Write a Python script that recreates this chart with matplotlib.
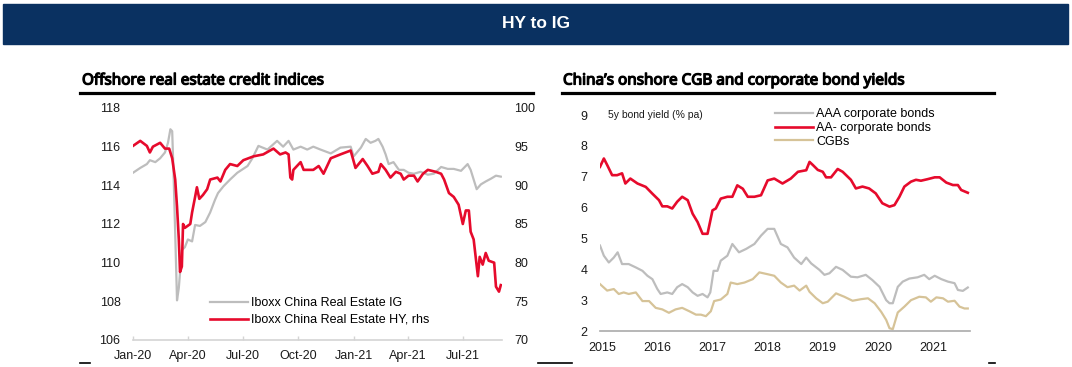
import matplotlib.pyplot as plt
import matplotlib.patheffects as pe
from matplotlib.lines import Line2D
from matplotlib.patches import Rectangle
import pandas as pd

plt.rcParams['font.family'] = ['Liberation Sans', 'DejaVu Sans']

# ---- left panel: Iboxx China real estate indices (days since 1 Jan 2020)
ig_days = [0, 12, 23, 28, 37, 45, 53, 58, 62, 65, 67, 70, 73, 76, 81, 86, 91, 98, 103, 111,
           120, 128, 136, 141, 150, 161, 173, 190, 198, 208, 223, 239, 249, 258, 266, 278, 289, 299, 311, 328,
           344, 361, 366, 378, 386, 394, 402, 407, 414, 419, 424, 432, 441, 449, 457, 466, 477, 489, 499, 511,
           522, 532, 544, 555, 560, 565, 570, 577, 585, 594, 602, 610]
ig_vals = [114.65, 114.9, 115.1, 115.3, 115.2, 115.4, 115.7, 116.2, 116.9, 116.8,
           114.9, 111.5, 108.05, 108.7, 110.65, 110.8, 111.2, 111.1, 111.95, 111.9,
           112.1, 112.6, 113.25, 113.6, 113.95, 114.3, 114.65, 115.0, 115.4, 116.04,
           115.85, 116.3, 116.0, 116.3, 115.85, 116.0, 115.85, 116.0, 115.85, 115.65,
           115.95, 116.0, 115.5, 115.95, 116.4, 116.2, 116.3, 116.4, 116.0, 115.6,
           115.1, 115.2, 114.8, 114.8, 114.65, 114.6, 114.7, 114.55, 114.6, 114.95,
           114.85, 114.85, 114.75, 115.1, 114.8, 114.3, 113.8, 114.05, 114.2, 114.35,
           114.5, 114.45]

hy_days = [0, 12, 23, 28, 33, 45, 53, 60, 65, 70, 73, 76, 78, 81, 83, 86, 95, 98, 103, 106,
           110, 116, 123, 128, 140, 145, 153, 161, 173, 183, 200, 216, 233, 244, 253, 258, 261, 264, 266, 278,
           283, 299, 308, 316, 328, 344, 361, 369, 381, 389, 397, 407, 411, 419, 427, 436, 444, 449, 457, 466,
           472, 481, 489, 502, 511, 516, 524, 532, 540, 547, 552, 557, 560, 565, 572, 575, 580, 585, 590, 599,
           602, 607, 610]
hy_vals = [95.1, 95.75, 95.1, 94.25, 95.0, 95.5, 94.75, 94.75, 93.5, 90.75,
           87.25, 83.0, 78.8, 79.5, 85.0, 84.5, 85.0, 86.5, 88.5, 89.75,
           88.25, 88.75, 89.5, 90.75, 91.0, 90.5, 92.0, 92.75, 92.5, 93.25,
           93.75, 94.0, 94.75, 94.0, 94.25, 94.0, 91.0, 90.75, 92.0, 93.0,
           92.0, 92.0, 92.5, 91.5, 93.5, 94.0, 94.5, 92.25, 93.4, 92.5,
           91.5, 91.75, 92.75, 92.0, 91.0, 91.75, 91.5, 90.75, 91.25, 91.25,
           90.5, 91.5, 92.0, 91.75, 91.5, 90.75, 89.0, 88.5, 87.5, 85.0,
           86.75, 86.75, 84.0, 83.0, 78.25, 80.75, 79.75, 81.25, 80.25, 80.0,
           76.9, 76.25, 77.1]

left_ticks = ['2020-01-01', '2020-04-01', '2020-07-01', '2020-10-01',
              '2021-01-01', '2021-04-01', '2021-07-01']
left_tick_labels = ['Jan-20', 'Apr-20', 'Jul-20', 'Oct-20', 'Jan-21', 'Apr-21', 'Jul-21']

# ---- right panel: 5y yields (decimal years)
aa_years = [2014.96, 2015.03, 2015.09, 2015.18, 2015.27, 2015.36, 2015.42, 2015.51, 2015.64, 2015.79,
            2015.91, 2016.03, 2016.09, 2016.18, 2016.27, 2016.36, 2016.45, 2016.55, 2016.64, 2016.73,
            2016.82, 2016.91, 2017.0, 2017.06, 2017.15, 2017.27, 2017.36, 2017.45, 2017.55, 2017.64,
            2017.76, 2017.88, 2018.0, 2018.12, 2018.27, 2018.42, 2018.55, 2018.70, 2018.76, 2018.82,
            2018.91, 2019.0, 2019.06, 2019.15, 2019.27, 2019.36, 2019.51, 2019.60, 2019.72, 2019.84,
            2019.96, 2020.08, 2020.21, 2020.30, 2020.39, 2020.48, 2020.60, 2020.69, 2020.78, 2020.90,
            2021.03, 2021.12, 2021.24, 2021.36, 2021.45, 2021.51, 2021.63]
aa_vals = [7.32, 7.59, 7.38, 7.05, 7.05, 7.11, 6.78, 6.94, 6.78, 6.67,
           6.45, 6.24, 6.04, 6.04, 5.97, 6.19, 6.35, 6.24, 5.80, 5.53,
           5.15, 5.15, 5.91, 5.97, 6.29, 6.35, 6.35, 6.72, 6.61, 6.35,
           6.35, 6.40, 6.88, 6.94, 6.78, 6.94, 7.16, 7.21, 7.48, 7.38,
           7.22, 7.16, 6.98, 6.98, 7.25, 7.16, 6.90, 6.62, 6.68, 6.62,
           6.46, 6.14, 6.03, 6.08, 6.35, 6.68, 6.84, 6.90, 6.87, 6.92,
           6.98, 6.98, 6.81, 6.73, 6.73, 6.57, 6.48]

aaa_years = [2014.96, 2015.03, 2015.12, 2015.21, 2015.28, 2015.36, 2015.48, 2015.61, 2015.73, 2015.82,
             2015.91, 2016.0, 2016.06, 2016.18, 2016.27, 2016.36, 2016.45, 2016.55, 2016.64, 2016.73,
             2016.82, 2016.91, 2016.96, 2017.02, 2017.09, 2017.15, 2017.27, 2017.36, 2017.48, 2017.61,
             2017.76, 2017.88, 2018.0, 2018.12, 2018.24, 2018.36, 2018.48, 2018.61, 2018.70, 2018.79,
             2018.94, 2019.03, 2019.12, 2019.24, 2019.36, 2019.51, 2019.63, 2019.78, 2019.90, 2020.03,
             2020.15, 2020.21, 2020.27, 2020.36, 2020.45, 2020.57, 2020.72, 2020.84, 2020.93, 2021.03,
             2021.15, 2021.27, 2021.39, 2021.45, 2021.54, 2021.63]
aaa_vals = [4.77, 4.44, 4.22, 4.38, 4.55, 4.17, 4.17, 4.06, 3.95, 3.79,
            3.68, 3.36, 3.20, 3.25, 3.20, 3.42, 3.52, 3.42, 3.25, 3.14,
            3.20, 3.09, 3.25, 3.95, 3.95, 4.28, 4.44, 4.82, 4.55, 4.66,
            4.82, 5.09, 5.31, 5.31, 4.82, 4.71, 4.38, 4.17, 4.38, 4.19,
            3.98, 3.82, 3.87, 4.08, 3.98, 3.76, 3.74, 3.82, 3.65, 3.43,
            3.0, 2.90, 2.90, 3.43, 3.60, 3.70, 3.74, 3.82, 3.68, 3.79,
            3.68, 3.60, 3.55, 3.33, 3.30, 3.41]

cgb_years = [2014.96, 2015.09, 2015.21, 2015.30, 2015.39, 2015.48, 2015.61, 2015.73, 2015.85, 2015.97,
             2016.09, 2016.21, 2016.33, 2016.45, 2016.58, 2016.70, 2016.79, 2016.88, 2016.97, 2017.03,
             2017.15, 2017.27, 2017.33, 2017.45, 2017.58, 2017.73, 2017.85, 2018.0, 2018.12, 2018.24,
             2018.36, 2018.48, 2018.58, 2018.70, 2018.76, 2018.88, 2019.0, 2019.09, 2019.24, 2019.39,
             2019.54, 2019.69, 2019.82, 2019.94, 2020.06, 2020.15, 2020.21, 2020.27, 2020.36, 2020.48,
             2020.60, 2020.75, 2020.87, 2020.96, 2021.06, 2021.18, 2021.27, 2021.39, 2021.48, 2021.57,
             2021.63]
cgb_vals = [3.52, 3.31, 3.36, 3.20, 3.25, 3.20, 3.25, 2.97, 2.97, 2.75,
            2.70, 2.59, 2.70, 2.75, 2.64, 2.53, 2.53, 2.48, 2.64, 2.97,
            3.02, 3.20, 3.57, 3.52, 3.57, 3.68, 3.90, 3.84, 3.79, 3.57,
            3.42, 3.47, 3.31, 3.47, 3.27, 3.06, 2.90, 2.95, 3.22, 3.11,
            2.98, 3.03, 3.06, 2.90, 2.62, 2.36, 2.09, 2.06, 2.60, 2.79,
            3.0, 3.11, 3.09, 2.95, 3.09, 3.06, 2.95, 2.98, 2.79, 2.73,
            2.73]

right_ticks = [2015, 2016, 2017, 2018, 2019, 2020, 2021]

RED = '#e60a2c'
GREY = '#bdbdbd'
TAN = '#d6c398'
NAVY = '#0a3161'
TXT = '#1a1a1a'

W, H = 1072, 367
fig = plt.figure(figsize=(W / 100, H / 100), dpi=100)


def box(x0, y0, x1, y1):
    # pixel box (top-left origin) -> figure fraction rect
    return [x0 / W, (H - y1) / H, (x1 - x0) / W, (y1 - y0) / H]


def hline(x0, x1, y, lw, color='black'):
    fig.add_artist(Line2D([x0 / W, x1 / W], [(H - y) / H] * 2, color=color, lw=lw,
                          transform=fig.transFigure))


# header band
fig.add_artist(Rectangle((3 / W, (H - 44) / H), 1065 / W, 40 / H, color=NAVY,
                         transform=fig.transFigure))
fig.text(536 / W, (H - 23) / H, 'HY to IG', color='white', fontsize=12.5,
         fontweight='bold', ha='center', va='center')

# panel titles and rules (condensed face, stroked to look bold)
title_kw = dict(fontsize=11, family='Noto Sans', fontstretch='condensed',
                va='center', color='black',
                path_effects=[pe.withStroke(linewidth=0.9, foreground='black')])
fig.text(82 / W, (H - 81) / H, 'Offshore real estate credit indices', **title_kw)
fig.text(563 / W, (H - 81) / H, 'China\u2019s onshore CGB and corporate bond yields', **title_kw)
hline(80, 533, 93, 2.3)
hline(562, 994, 93, 2.3)
hline(80, 90, 363, 1.2)
hline(538, 572, 363, 1.2)
hline(989, 995, 363, 1.2)

# ---- left chart
ax1 = fig.add_axes(box(133, 108, 502, 340))
ig_x = pd.Timestamp('2020-01-01') + pd.to_timedelta(ig_days, unit='D')
hy_x = pd.Timestamp('2020-01-01') + pd.to_timedelta(hy_days, unit='D')
l_ig, = ax1.plot(ig_x, ig_vals, color=GREY, lw=1.6)
ax1.set_ylim(106, 118)
ax1.set_yticks(range(106, 119, 2))
ax1.set_xlim(pd.Timestamp('2020-01-01'), pd.Timestamp('2021-09-04'))
ax1.set_xticks(pd.to_datetime(left_ticks))
ax1.set_xticklabels(left_tick_labels)

ax2 = ax1.twinx()
l_hy, = ax2.plot(hy_x, hy_vals, color=RED, lw=1.9)
ax2.set_ylim(70, 100)
ax2.set_yticks(range(70, 101, 5))

for a in (ax1, ax2):
    for s in a.spines.values():
        s.set_visible(False)
    a.patch.set_visible(False)
ax1.spines['bottom'].set_visible(True)
ax1.spines['bottom'].set_color('#d4d4d4')
ax1.spines['bottom'].set_linewidth(1.2)
ax1.tick_params(axis='y', length=0, pad=9, labelsize=9, labelcolor=TXT)
ax2.tick_params(axis='y', length=0, pad=9, labelsize=9, labelcolor=TXT)
ax1.tick_params(axis='x', direction='in', length=3, width=1, color='#d4d4d4',
                pad=7, labelsize=9, labelcolor=TXT)

ax2.legend([l_ig, l_hy], ['Iboxx China Real Estate IG', 'Iboxx China Real Estate HY, rhs'],
           loc='lower left', bbox_to_anchor=((210 - 133) / 369, (340 - 326) / 232),
           frameon=False, fontsize=9, handlelength=3.0, handletextpad=0.25,
           labelspacing=0.4, borderpad=0, borderaxespad=0)

# ---- right chart
ax3 = fig.add_axes(box(600, 115, 970, 331))
l_aaa, = ax3.plot(aaa_years, aaa_vals, color=GREY, lw=1.6)
l_aa, = ax3.plot(aa_years, aa_vals, color=RED, lw=1.9)
l_cgb, = ax3.plot(cgb_years, cgb_vals, color=TAN, lw=1.6)
ax3.set_xlim(2014.96, 2021.67)
ax3.set_ylim(2, 9)
ax3.set_yticks(range(2, 10))
ax3.set_xticks(right_ticks)
ax3.set_xticklabels([str(y) for y in right_ticks])
for s in ax3.spines.values():
    s.set_visible(False)
ax3.spines['bottom'].set_visible(True)
ax3.spines['bottom'].set_color('#aaaaaa')
ax3.spines['bottom'].set_linewidth(1.2)
ax3.patch.set_visible(False)
ax3.tick_params(axis='y', length=0, pad=9, labelsize=9, labelcolor=TXT)
ax3.tick_params(axis='x', length=0, pad=8, labelsize=9, labelcolor=TXT)
ax3.text(2015.1, 9, '5y bond yield (% pa)', fontsize=7.5, va='center', color=TXT)
ax3.legend([l_aaa, l_aa, l_cgb], ['AAA corporate bonds', 'AA- corporate bonds', 'CGBs'],
           loc='upper left', bbox_to_anchor=((775 - 600) / 370, (331 - 108) / 216),
           frameon=False, fontsize=9, handlelength=3.0, handletextpad=0.3,
           labelspacing=0.15, borderpad=0, borderaxespad=0)

fig.savefig('out.png', dpi=100)
